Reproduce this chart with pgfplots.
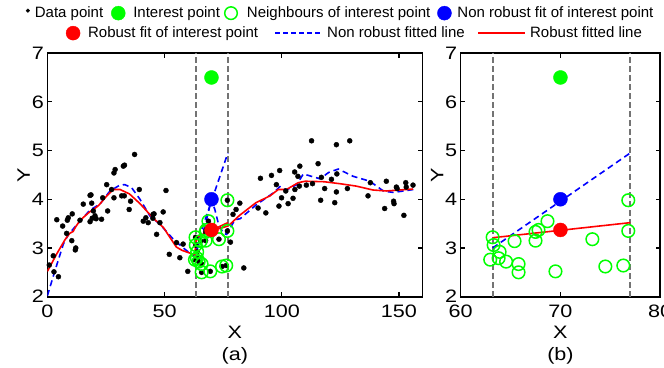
\documentclass[border=0pt]{standalone}
\usepackage{pgfplots}
\usepackage{pgfplotstable}
\pgfplotsset{compat=1.18}
\usepackage{fontspec}
\setmainfont{Liberation Sans}
\newfontfamily\tickfont{Liberation Sans}[FakeStretch=1.2]

\definecolor{mgreen}{rgb}{0,1,0}
\definecolor{mblue}{rgb}{0,0,1}
\definecolor{mred}{rgb}{1,0,0}
\definecolor{mgray}{rgb}{0.45,0.45,0.45}

\pgfplotstableread{
x y
0.8 2.65
2.5 2.84
2.8 2.51
4.7 2.41
4.0 3.58
6.5 3.45
8.5 3.57
8.9 3.62
10.6 3.70
8.2 3.30
10.4 3.15
12.1 3.00
11.9 2.96
13.9 3.57
15.3 3.90
18.2 4.08
18.6 4.09
18.9 3.92
18.2 3.54
19.1 3.61
19.6 3.76
20.3 3.66
20.8 3.60
23.1 3.59
23.6 4.03
25.7 3.76
25.3 4.30
27.4 4.20
28.4 4.03
28.4 4.54
28.9 4.61
32.4 4.68
32.9 4.70
31.7 4.07
32.8 4.07
34.9 3.79
35.5 3.96
37.2 4.92
39.2 4.20
40.9 3.55
42.0 3.62
43.0 3.52
45.1 3.69
45.5 3.70
45.0 3.61
46.6 3.28
48.0 3.52
49.4 3.74
50.6 4.18
52.0 2.87
55.1 3.11
56.5 2.80
57.9 3.08
59.9 2.52
63.2 3.22
63.3 3.06
62.96 2.76
63.9 2.92
63.8 2.79
64.55 2.72
65.4 3.14
65.8 2.67
65.8 2.50
67.5 3.33
67.5 3.15
67.8 3.37
68.7 3.55
69.5 2.52
73.2 3.18
74.5 2.62
76.3 2.64
76.8 3.98
76.8 3.35
78.1 3.12
79.2 3.69
80.5 3.79
82.1 3.92
83.8 2.59
89.9 3.82
90.9 4.43
93.2 3.72
95.6 4.49
97.7 4.30
99.1 4.59
99.9 4.03
98.8 3.86
101.7 4.17
102.7 3.91
104.8 4.02
105.5 4.56
105.6 4.20
106.9 4.47
107.7 4.68
107.5 4.27
110.5 4.29
112.7 5.20
113.1 4.32
115.5 4.73
116.6 3.98
116.9 4.45
118.3 4.22
121.2 4.41
122.6 3.93
123.3 5.12
123.3 4.15
123.5 4.52
128.0 4.22
129.0 5.20
136.8 4.07
137.8 4.34
143.9 3.81
144.6 4.37
147.7 3.96
147.9 3.91
148.9 4.25
149.2 4.22
152.1 3.67
152.9 4.34
153.1 4.25
156.0 4.29
}\datatab

\pgfplotstableread{
x y
63.2 3.22
63.3 3.06
62.96 2.76
63.9 2.92
63.8 2.79
64.55 2.72
65.4 3.14
65.8 2.67
65.8 2.50
67.5 3.33
67.5 3.15
67.8 3.37
68.7 3.55
69.5 2.52
73.2 3.18
74.5 2.62
76.3 2.64
76.8 3.98
76.8 3.35
}\neightab

\pgfplotstableread{
x y
0 2.52
4 2.88
7.5 3.17
9.5 3.30
11 3.34
12 3.43
14 3.57
18 3.74
20 3.80
22 3.88
25 4.05
28 4.20
31 4.20
35 4.11
39.5 3.91
45 3.62
49.5 3.42
55 3.02
57.5 2.95
62.9 2.86
63.4 3.15
64.5 3.20
67 3.28
70 3.37
73.5 3.40
77 3.45
78 3.49
82 3.67
89 3.93
95 4.07
98.5 4.20
102 4.20
107 4.34
110 4.37
118 4.36
124.7 4.32
131.8 4.27
138.9 4.19
144.6 4.17
150.3 4.19
156 4.21
}\robusttab

\pgfplotstableread{
x y
0 2.02
3.2 2.53
6.8 3.08
8.9 3.27
11.9 3.44
18.2 3.78
22.4 3.90
26.7 4.17
30.9 4.29
33 4.30
35.9 4.24
39.5 4.00
43.7 3.66
48 3.49
53.7 3.18
58 3.00
62.2 2.84
63.3 2.90
64.1 3.00
65.1 3.17
67.2 3.44
70 4.00
71.5 3.78
72.9 3.51
75 3.30
76.5 3.28
77.9 3.40
80 3.58
82.2 3.60
89.2 3.89
96.4 4.13
99.2 4.26
102 4.19
106.4 4.30
109.2 4.52
112.7 4.47
116.3 4.42
120 4.55
124.1 4.62
130.5 4.47
137.6 4.37
143.3 4.17
147.6 4.14
156.1 4.20
}\nonrobusttab

\pgfplotsset{
 mystyle/.style={
   scale only axis, height=243.6pt,
   ymin=2, ymax=7, ytick={2,3,4,5,6,7},
   tick align=inside, major tick length=4.5pt,
   axis line style={line width=1.6pt},
   major tick style={black, line width=1.2pt},
   tick label style={font=\tickfont\fontsize{18}{20}\selectfont},
   xticklabel style={yshift=-5pt},
   /pgf/number format/assume math mode=true,
   label style={font=\tickfont\fontsize{18}{22}\selectfont},
   xlabel style={align=center, yshift=-1pt},
   ylabel style={yshift=-5pt},
   legend style={draw=none, fill=none, inner sep=0pt, outer sep=0pt,
     font=\fontsize{15}{17}\selectfont, column sep=0pt, nodes={inner sep=0pt}},
   legend columns=-1,
 },
 vline/.style={mgray, line width=2pt, dash pattern=on 6pt off 3pt, forget plot},
 bigdot/.style={only marks, mark=*, mark size=7pt, forget plot},
 nring/.style={only marks, mark=o, mark size=6.3pt, mgreen, line width=1.5pt, forget plot},
}

\begin{document}
\begin{tikzpicture}
\useasboundingbox (-47.4pt,-70.3pt) rectangle (616.6pt,296.7pt);
% left axis
\begin{axis}[mystyle, width=375pt,
  xmin=0, xmax=160, xtick={0,50,100,150},
  xlabel={X\\(a)}, ylabel={Y},
  legend style={at={(axis description cs:-0.06,1.164)}, anchor=west},
]
\addlegendimage{legend image code/.code={\fill[black] (3pt,2.5pt) circle (1.8pt); \path[draw=none,fill=none] (0,0) -- (10pt,0);}}
\addlegendentry{Data point}
\addlegendimage{legend image code/.code={\fill[mgreen] (15pt,0) circle (7pt); \path[draw=none,fill=none] (0,0) -- (30pt,0);}}
\addlegendentry{Interest point}
\addlegendimage{legend image code/.code={\draw[mgreen, line width=1.5pt] (11pt,0) circle (6.3pt); \path[draw=none,fill=none] (0,0) -- (27pt,0);}}
\addlegendentry{Neighbours of interest point}
\addlegendimage{legend image code/.code={\fill[mblue] (14pt,0) circle (7pt); \path[draw=none,fill=none] (0,0) -- (27pt,0);}}
\addlegendentry{Non robust fit of interest point}

\addplot[vline] coordinates {(63.2,2) (63.2,7)};
\addplot[vline] coordinates {(77,2) (77,7)};
\addplot[only marks, mark=*, mark size=2.5pt, black, forget plot] table[x=x,y=y] {\datatab};
\addplot[nring] table[x=x,y=y] {\neightab};
\addplot[bigdot, mgreen] coordinates {(70,6.5)};
\addplot[mblue, line width=1.6pt, dash pattern=on 6pt off 4pt, forget plot] table[x=x,y=y] {\nonrobusttab};
\addplot[mred, line width=1.6pt, forget plot] table[x=x,y=y] {\robusttab};
\addplot[mblue, line width=1.6pt, dash pattern=on 6pt off 4pt, forget plot] coordinates {(63.2,3.0) (77,4.95)};
\addplot[mred, line width=1.6pt, forget plot] coordinates {(63.2,3.21) (77,3.52)};
\addplot[bigdot, mblue] coordinates {(70,4.0)};
\addplot[bigdot, mred] coordinates {(70,3.37)};
\end{axis}
% right axis
\begin{axis}[mystyle, width=199.5pt, at={(413.3pt,0pt)},
  xmin=60, xmax=80, xtick={60,70,80},
  xlabel={X\\(b)}, ylabel={Y},
  legend style={at={(axis description cs:-1.983,1.082)}, anchor=west},
]
\addlegendimage{legend image code/.code={\fill[mred] (8pt,0) circle (7pt); \path[draw=none,fill=none] (0,0) -- (23pt,0);}}
\addlegendentry{Robust fit of interest point}
\addlegendimage{legend image code/.code={\draw[mblue, line width=1.3pt, dash pattern=on 5pt off 3pt] (17pt,0) -- (62pt,0); \path[draw=none,fill=none] (0,0) -- (69pt,0);}}
\addlegendentry{Non robust fitted line}
\addlegendimage{legend image code/.code={\draw[mred, line width=1.3pt] (13.4pt,0) -- (60.4pt,0); \path[draw=none,fill=none] (0,0) -- (65.4pt,0);}}
\addlegendentry{Robust fitted line}

\addplot[vline] coordinates {(63.2,2) (63.2,7)};
\addplot[vline] coordinates {(77,2) (77,7)};
\addplot[nring] table[x=x,y=y] {\neightab};
\addplot[bigdot, mgreen] coordinates {(70,6.5)};
\addplot[mblue, line width=1.6pt, dash pattern=on 6pt off 4pt, forget plot] coordinates {(63.2,3.0) (77,4.95)};
\addplot[mred, line width=1.6pt, forget plot] coordinates {(63.2,3.21) (77,3.52)};
\addplot[bigdot, mblue] coordinates {(70,4.0)};
\addplot[bigdot, mred] coordinates {(70,3.37)};
\end{axis}
\end{tikzpicture}
\end{document}
